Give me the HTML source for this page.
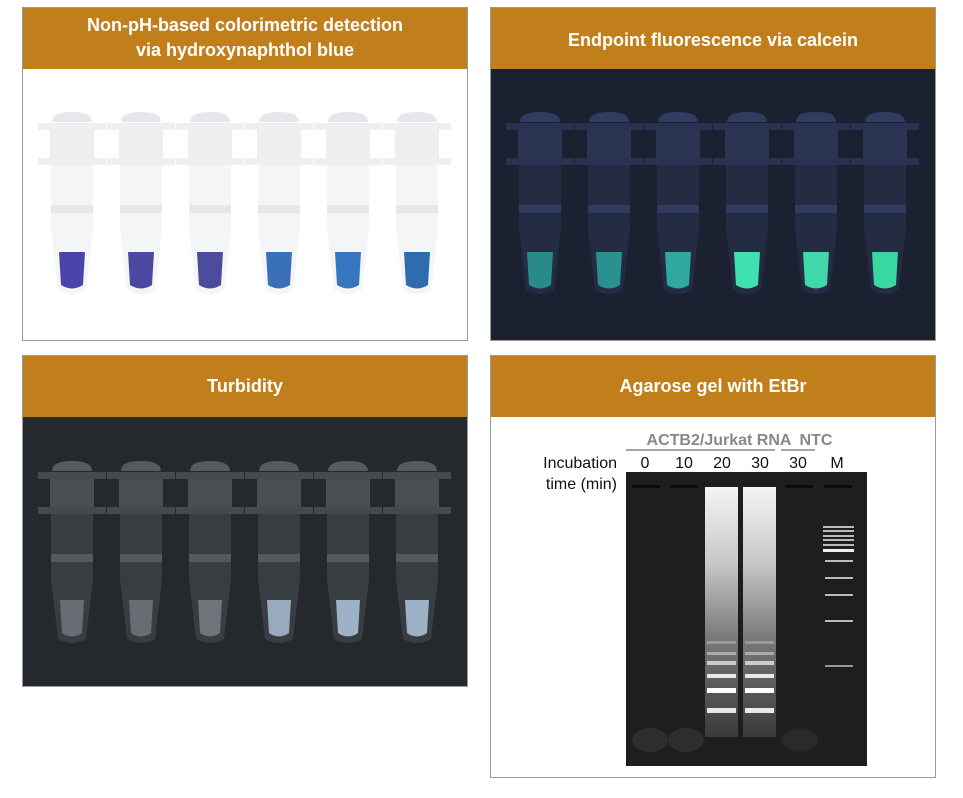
<!DOCTYPE html>
<html><head><meta charset="utf-8"><style>
body{margin:0;background:#fff;width:963px;height:798px;overflow:hidden}
svg{display:block}
text{font-family:"Liberation Sans",Arial,sans-serif}
</style></head><body>
<svg width="963" height="798" viewBox="0 0 963 798" xmlns="http://www.w3.org/2000/svg">
<defs>
<g id="tube">
  <path d="M-20,7 Q-20,-3 0,-3 Q20,-3 20,7 Z" fill-opacity="0.3"/>
  <rect x="-34" y="8" width="68" height="7" fill-opacity="0.2"/>
  <rect x="-22" y="15" width="44" height="28" fill-opacity="0.22"/>
  <rect x="-34" y="43" width="68" height="7" fill-opacity="0.2"/>
  <path d="M-21,50 L21,50 L21,115 L14,175 Q0,183 -14,175 L-21,115 Z" fill-opacity="0.12"/>
  <rect x="-21" y="90" width="42" height="8" fill-opacity="0.2"/>
</g>
<linearGradient id="smear" x1="0" y1="0" x2="0" y2="1">
  <stop offset="0" stop-color="#f4f4f4"/><stop offset="0.3" stop-color="#c8c8c8"/><stop offset="0.6" stop-color="#7a7a7a"/><stop offset="1" stop-color="#3a3a3a"/>
</linearGradient>
</defs>

<!-- Panel 1 -->
<rect x="22.5" y="7.5" width="445" height="333" fill="#fff" stroke="#999"/>
<rect x="23" y="8" width="444" height="61" fill="#c17f1c"/>
<text x="245" y="31" font-size="18" font-weight="bold" fill="#fff" text-anchor="middle">Non-pH-based colorimetric detection</text>
<text x="245" y="56" font-size="18" font-weight="bold" fill="#fff" text-anchor="middle">via hydroxynaphthol blue</text>
<g fill="#a8b0b8">
  <use href="#tube" transform="translate(72,115)"/>
  <use href="#tube" transform="translate(141,115)"/>
  <use href="#tube" transform="translate(210,115)"/>
  <use href="#tube" transform="translate(279,115)"/>
  <use href="#tube" transform="translate(348,115)"/>
  <use href="#tube" transform="translate(417,115)"/>
</g>
<g>
  <path d="M59,252 L85,252 L83,285 Q72,292 61,285 Z" fill="#4a44a8"/>
  <path d="M128,252 L154,252 L152,285 Q141,292 130,285 Z" fill="#4a48a0"/>
  <path d="M197,252 L223,252 L221,285 Q210,292 199,285 Z" fill="#4c4c9c"/>
  <path d="M266,252 L292,252 L290,285 Q279,292 268,285 Z" fill="#3a70b8"/>
  <path d="M335,252 L361,252 L359,285 Q348,292 337,285 Z" fill="#3676c0"/>
  <path d="M404,252 L430,252 L428,285 Q417,292 406,285 Z" fill="#2e6cb0"/>
</g>

<!-- Panel 2 -->
<rect x="490.5" y="7.5" width="445" height="333" fill="#1b2131" stroke="#999"/>
<rect x="491" y="8" width="444" height="61" fill="#c17f1c"/>
<text x="713" y="46" font-size="18" font-weight="bold" fill="#fff" text-anchor="middle">Endpoint fluorescence via calcein</text>
<g fill="#6a7ad0">
  <use href="#tube" transform="translate(540,115)"/>
  <use href="#tube" transform="translate(609,115)"/>
  <use href="#tube" transform="translate(678,115)"/>
  <use href="#tube" transform="translate(747,115)"/>
  <use href="#tube" transform="translate(816,115)"/>
  <use href="#tube" transform="translate(885,115)"/>
</g>
<g>
  <path d="M527,252 L553,252 L551,285 Q540,292 529,285 Z" fill="#2a8a8a"/>
  <path d="M596,252 L622,252 L620,285 Q609,292 598,285 Z" fill="#2a9090"/>
  <path d="M665,252 L691,252 L689,285 Q678,292 667,285 Z" fill="#30a8a0"/>
  <path d="M734,252 L760,252 L758,285 Q747,292 736,285 Z" fill="#40e0b0"/>
  <path d="M803,252 L829,252 L827,285 Q816,292 805,285 Z" fill="#40d8a8"/>
  <path d="M872,252 L898,252 L896,285 Q885,292 874,285 Z" fill="#38d8a0"/>
</g>

<!-- Panel 3 -->
<rect x="22.5" y="355.5" width="445" height="331" fill="#25292d" stroke="#999"/>
<rect x="23" y="356" width="444" height="61" fill="#c17f1c"/>
<text x="245" y="392" font-size="18" font-weight="bold" fill="#fff" text-anchor="middle">Turbidity</text>
<g fill="#c8d0d8">
  <use href="#tube" transform="translate(72,464)"/>
  <use href="#tube" transform="translate(141,464)"/>
  <use href="#tube" transform="translate(210,464)"/>
  <use href="#tube" transform="translate(279,464)"/>
  <use href="#tube" transform="translate(348,464)"/>
  <use href="#tube" transform="translate(417,464)"/>
</g>
<g>
  <path d="M60,600 L84,600 L82,633 Q72,640 62,633 Z" fill="#c0c8d0" fill-opacity="0.35"/>
  <path d="M129,600 L153,600 L151,633 Q141,640 131,633 Z" fill="#c0c8d0" fill-opacity="0.35"/>
  <path d="M198,600 L222,600 L220,633 Q210,640 200,633 Z" fill="#c0c8d0" fill-opacity="0.4"/>
  <path d="M267,600 L291,600 L289,633 Q279,640 269,633 Z" fill="#b8d0e8" fill-opacity="0.75"/>
  <path d="M336,600 L360,600 L358,633 Q348,640 338,633 Z" fill="#b8d0e8" fill-opacity="0.8"/>
  <path d="M405,600 L429,600 L427,633 Q417,640 407,633 Z" fill="#b8d0e8" fill-opacity="0.8"/>
</g>

<!-- Panel 4 -->
<rect x="490.5" y="355.5" width="445" height="422" fill="#fff" stroke="#999"/>
<rect x="491" y="356" width="444" height="61" fill="#c17f1c"/>
<text x="713" y="392" font-size="18" font-weight="bold" fill="#fff" text-anchor="middle">Agarose gel with EtBr</text>
<text x="719" y="445" font-size="16" font-weight="bold" fill="#888" text-anchor="middle">ACTB2/Jurkat RNA</text>
<text x="816" y="445" font-size="16" font-weight="bold" fill="#888" text-anchor="middle">NTC</text>
<line x1="626" y1="450" x2="775" y2="450" stroke="#888" stroke-width="1.5"/>
<line x1="781" y1="450" x2="815" y2="450" stroke="#888" stroke-width="1.5"/>
<g font-size="16" fill="#111">
  <text x="617" y="468" text-anchor="end">Incubation</text>
  <text x="617" y="489" text-anchor="end">time (min)</text>
  <text x="645" y="468" text-anchor="middle">0</text>
  <text x="684" y="468" text-anchor="middle">10</text>
  <text x="722" y="468" text-anchor="middle">20</text>
  <text x="760" y="468" text-anchor="middle">30</text>
  <text x="798" y="468" text-anchor="middle">30</text>
  <text x="837" y="468" text-anchor="middle">M</text>
</g>
<rect x="626" y="472" width="241" height="294" fill="#1e1e1e"/>
<g fill="#0c0c0c">
  <rect x="632" y="485" width="28" height="3"/><rect x="670" y="485" width="28" height="3"/>
  <rect x="785" y="485" width="28" height="3"/><rect x="824" y="485" width="28" height="3"/>
</g>
<ellipse cx="650" cy="740" rx="18" ry="12" fill="#2e2e2e"/>
<ellipse cx="686" cy="740" rx="18" ry="12" fill="#2e2e2e"/>
<ellipse cx="800" cy="740" rx="18" ry="12" fill="#2a2a2a"/>
<rect x="705" y="487" width="33" height="250" fill="url(#smear)"/>
<rect x="743" y="487" width="33" height="250" fill="url(#smear)"/>
<g fill="#e8e8e8">
  <rect x="707" y="641" width="29" height="3" fill="#999"/><rect x="745" y="641" width="29" height="3" fill="#999"/>
  <rect x="707" y="652" width="29" height="3" fill="#aaa"/><rect x="745" y="652" width="29" height="3" fill="#aaa"/>
  <rect x="707" y="661" width="29" height="4" fill="#ccc"/><rect x="745" y="661" width="29" height="4" fill="#ccc"/>
  <rect x="707" y="674" width="29" height="4"/><rect x="745" y="674" width="29" height="4"/>
  <rect x="707" y="688" width="29" height="5" fill="#fff"/><rect x="745" y="688" width="29" height="5" fill="#fff"/>
  <rect x="707" y="708" width="29" height="5"/><rect x="745" y="708" width="29" height="5"/>
</g>
<g fill="#bbb">
  <rect x="823" y="526" width="31" height="2"/><rect x="823" y="530" width="31" height="2"/>
  <rect x="823" y="535" width="31" height="2"/><rect x="823" y="539" width="31" height="2"/>
  <rect x="823" y="544" width="31" height="2"/><rect x="823" y="549" width="31" height="3" fill="#eee"/>
  <rect x="825" y="560" width="28" height="2"/><rect x="825" y="577" width="28" height="2"/>
  <rect x="825" y="594" width="28" height="2"/><rect x="825" y="620" width="28" height="2"/>
  <rect x="825" y="665" width="28" height="2" fill="#999"/>
</g>
</svg>
</body></html>
